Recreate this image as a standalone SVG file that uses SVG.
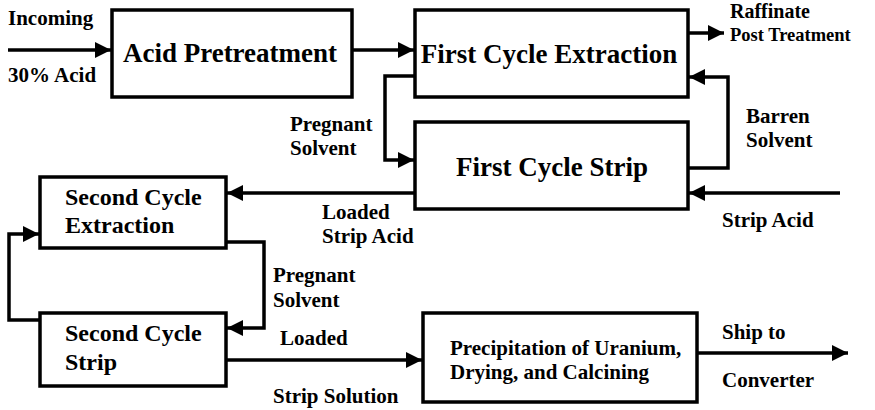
<svg xmlns="http://www.w3.org/2000/svg" width="875" height="410" viewBox="0 0 875 410">
<style>
.box{fill:#fff;stroke:#000;stroke-width:3.5}
text{font-family:'Liberation Serif','DejaVu Serif',serif;font-weight:bold;fill:#000}
.big{font-size:27px}
.mid{font-size:24px}
.lbl{font-size:21px}
.sm{font-size:18.5px}
.c{stroke:#000;stroke-width:3.5;fill:none}
</style>
<defs>
<marker id="ahb" markerWidth="16" markerHeight="16" refX="16" refY="8" orient="auto" markerUnits="userSpaceOnUse" viewBox="0 0 16 16">
<path d="M0,0 L16,8 L0,16 Z" fill="#000"/>
</marker>
</defs>
<g id="connectors">
<line class="c" x1="8" y1="50" x2="111" y2="50" marker-end="url(#ahb)"/>
<line class="c" x1="352" y1="50" x2="414" y2="50" marker-end="url(#ahb)"/>
<line class="c" x1="688" y1="33" x2="724" y2="33" marker-end="url(#ahb)"/>
<polyline class="c" points="415,76 385,76 385,160 414,160" marker-end="url(#ahb)"/>
<polyline class="c" points="688,168 728,168 728,77 689,77" marker-end="url(#ahb)"/>
<line class="c" x1="840" y1="193" x2="689" y2="193" marker-end="url(#ahb)"/>
<line class="c" x1="415" y1="193" x2="227" y2="193" marker-end="url(#ahb)"/>
<polyline class="c" points="226,242 264,242 264,328 227,328" marker-end="url(#ahb)"/>
<polyline class="c" points="40,320 9,320 9,234 39,234" marker-end="url(#ahb)"/>
<line class="c" x1="226" y1="360" x2="422" y2="360" marker-end="url(#ahb)"/>
<line class="c" x1="697" y1="353" x2="848" y2="353" marker-end="url(#ahb)"/>
</g>
<g id="acid-pretreatment">
<rect class="box" x="112" y="10" width="240" height="87"/>
<text class="big" x="230" y="62" text-anchor="middle">Acid Pretreatment</text>
</g>
<g id="first-cycle-extraction">
<rect class="box" x="415" y="10" width="273" height="87"/>
<text class="big" x="549" y="63" text-anchor="middle">First Cycle Extraction</text>
</g>
<g id="first-cycle-strip">
<rect class="box" x="415" y="122" width="273" height="87"/>
<text class="big" x="552" y="176" text-anchor="middle">First Cycle Strip</text>
</g>
<g id="second-cycle-extraction">
<rect class="box" x="40" y="177" width="186" height="71"/>
<text class="mid" x="65" y="205">Second Cycle</text>
<text class="mid" x="65" y="233">Extraction</text>
</g>
<g id="second-cycle-strip">
<rect class="box" x="40" y="313" width="186" height="73"/>
<text class="mid" x="65" y="341">Second Cycle</text>
<text class="mid" x="65" y="370">Strip</text>
</g>
<g id="precipitation">
<rect class="box" x="423" y="313" width="274" height="89"/>
<text class="lbl" x="450" y="355">Precipitation of Uranium,</text>
<text class="lbl" x="450" y="379">Drying, and Calcining</text>
</g>
<g id="labels">
<text class="lbl" x="8" y="25">Incoming</text>
<text class="lbl" x="8" y="82">30% Acid</text>
<text class="lbl" x="730" y="18" style="font-size:20px">Raffinate</text>
<text class="sm" x="730" y="41">Post Treatment</text>
<text class="lbl" x="290" y="131">Pregnant</text>
<text class="lbl" x="290" y="155">Solvent</text>
<text class="lbl" x="746" y="123">Barren</text>
<text class="lbl" x="746" y="147">Solvent</text>
<text class="lbl" x="722" y="227">Strip Acid</text>
<text class="lbl" x="322" y="219">Loaded</text>
<text class="lbl" x="322" y="243">Strip Acid</text>
<text class="lbl" x="273" y="282">Pregnant</text>
<text class="lbl" x="273" y="307">Solvent</text>
<text class="lbl" x="280" y="345">Loaded</text>
<text class="lbl" x="273" y="403">Strip Solution</text>
<text class="lbl" x="722" y="339">Ship to</text>
<text class="lbl" x="722" y="387">Converter</text>
</g>
</svg>
